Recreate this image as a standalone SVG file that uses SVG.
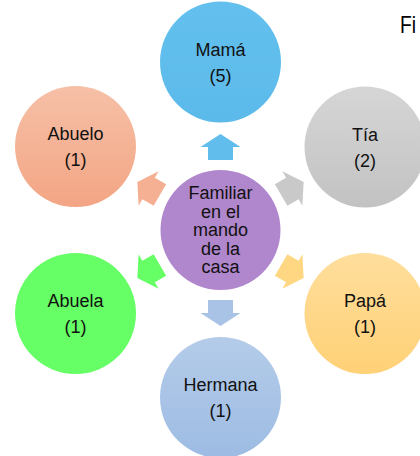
<svg xmlns="http://www.w3.org/2000/svg" width="420" height="456" viewBox="0 0 420 456">
<defs>
<linearGradient id="gBlue" x1="0" y1="0" x2="0" y2="1"><stop offset="0" stop-color="#64C0EE"/><stop offset="1" stop-color="#5BBAEA"/></linearGradient>
<linearGradient id="gGray" x1="0" y1="0" x2="0" y2="1"><stop offset="0" stop-color="#D6D6D6"/><stop offset="1" stop-color="#C2C2C2"/></linearGradient>
<linearGradient id="gOrange" x1="0" y1="0" x2="0" y2="1"><stop offset="0" stop-color="#FFDE9C"/><stop offset="1" stop-color="#FFD177"/></linearGradient>
<linearGradient id="gLight" x1="0" y1="0" x2="0" y2="1"><stop offset="0" stop-color="#B4CCE9"/><stop offset="1" stop-color="#9DBBE3"/></linearGradient>
<linearGradient id="gSalmon" x1="0" y1="0" x2="0" y2="1"><stop offset="0" stop-color="#F6C0A7"/><stop offset="1" stop-color="#F3A584"/></linearGradient>
<filter id="soft" x="-5%" y="-5%" width="110%" height="110%"><feGaussianBlur stdDeviation="0.6"/></filter>
<path id="arrow" d="M-12.5,-70 L-12.5,-83 L-20,-83 L0,-96 L20,-83 L12.5,-83 L12.5,-70 Z"/>
</defs>
<style>
.lbl{font-family:"Liberation Sans",Arial,sans-serif;font-size:18px;fill:#111;text-anchor:middle}
.circ{filter:url(#soft)}
</style>
<rect width="420" height="456" fill="#fff"/>
<g id="connectors">
<use href="#arrow" transform="translate(220.5,230)" fill="#60BDEC"/>
<use href="#arrow" transform="translate(220.5,230) rotate(60)" fill="#C9C9C9"/>
<use href="#arrow" transform="translate(220.5,230) rotate(120)" fill="#FFD682"/>
<use href="#arrow" transform="translate(220.5,230) rotate(180)" fill="#A8C3E6"/>
<use href="#arrow" transform="translate(220.5,230) rotate(240)" fill="#66FF66"/>
<use href="#arrow" transform="translate(220.5,230) rotate(300)" fill="#F5B093"/>
</g>
<g id="center">
<circle class="circ" cx="220.5" cy="230" r="60" fill="#B086CC"/>
<text class="lbl" x="220.5" y="199">Familiar</text>
<text class="lbl" x="220.5" y="217.5">en el</text>
<text class="lbl" x="220.5" y="236">mando</text>
<text class="lbl" x="220.5" y="254.5">de la</text>
<text class="lbl" x="220.5" y="273">casa</text>
</g>
<g id="mama">
<circle class="circ" cx="220.5" cy="62" r="60.5" fill="url(#gBlue)"/>
<text class="lbl" x="220.5" y="55.5">Mamá</text>
<text class="lbl" x="220.5" y="81.5">(5)</text>
</g>
<g id="tia">
<circle class="circ" cx="365" cy="147" r="60.5" fill="url(#gGray)"/>
<text class="lbl" x="365" y="140.5">Tía</text>
<text class="lbl" x="365" y="166.5">(2)</text>
</g>
<g id="papa">
<circle class="circ" cx="365" cy="313.5" r="60.5" fill="url(#gOrange)"/>
<text class="lbl" x="365" y="307">Papá</text>
<text class="lbl" x="365" y="333">(1)</text>
</g>
<g id="hermana">
<circle class="circ" cx="220.5" cy="397.5" r="60.5" fill="url(#gLight)"/>
<text class="lbl" x="220.5" y="390.5">Hermana</text>
<text class="lbl" x="220.5" y="416.5">(1)</text>
</g>
<g id="abuela">
<circle class="circ" cx="75.5" cy="313.5" r="60.5" fill="#66FF66"/>
<text class="lbl" x="75.5" y="307">Abuela</text>
<text class="lbl" x="75.5" y="333">(1)</text>
</g>
<g id="abuelo">
<circle class="circ" cx="75.5" cy="146.5" r="60.5" fill="url(#gSalmon)"/>
<text class="lbl" x="75.5" y="140">Abuelo</text>
<text class="lbl" x="75.5" y="166">(1)</text>
</g>
<text x="400" y="33" font-family="'Liberation Sans',Arial,sans-serif" font-size="24" fill="#000" textLength="16" lengthAdjust="spacingAndGlyphs">Fi</text>
</svg>
